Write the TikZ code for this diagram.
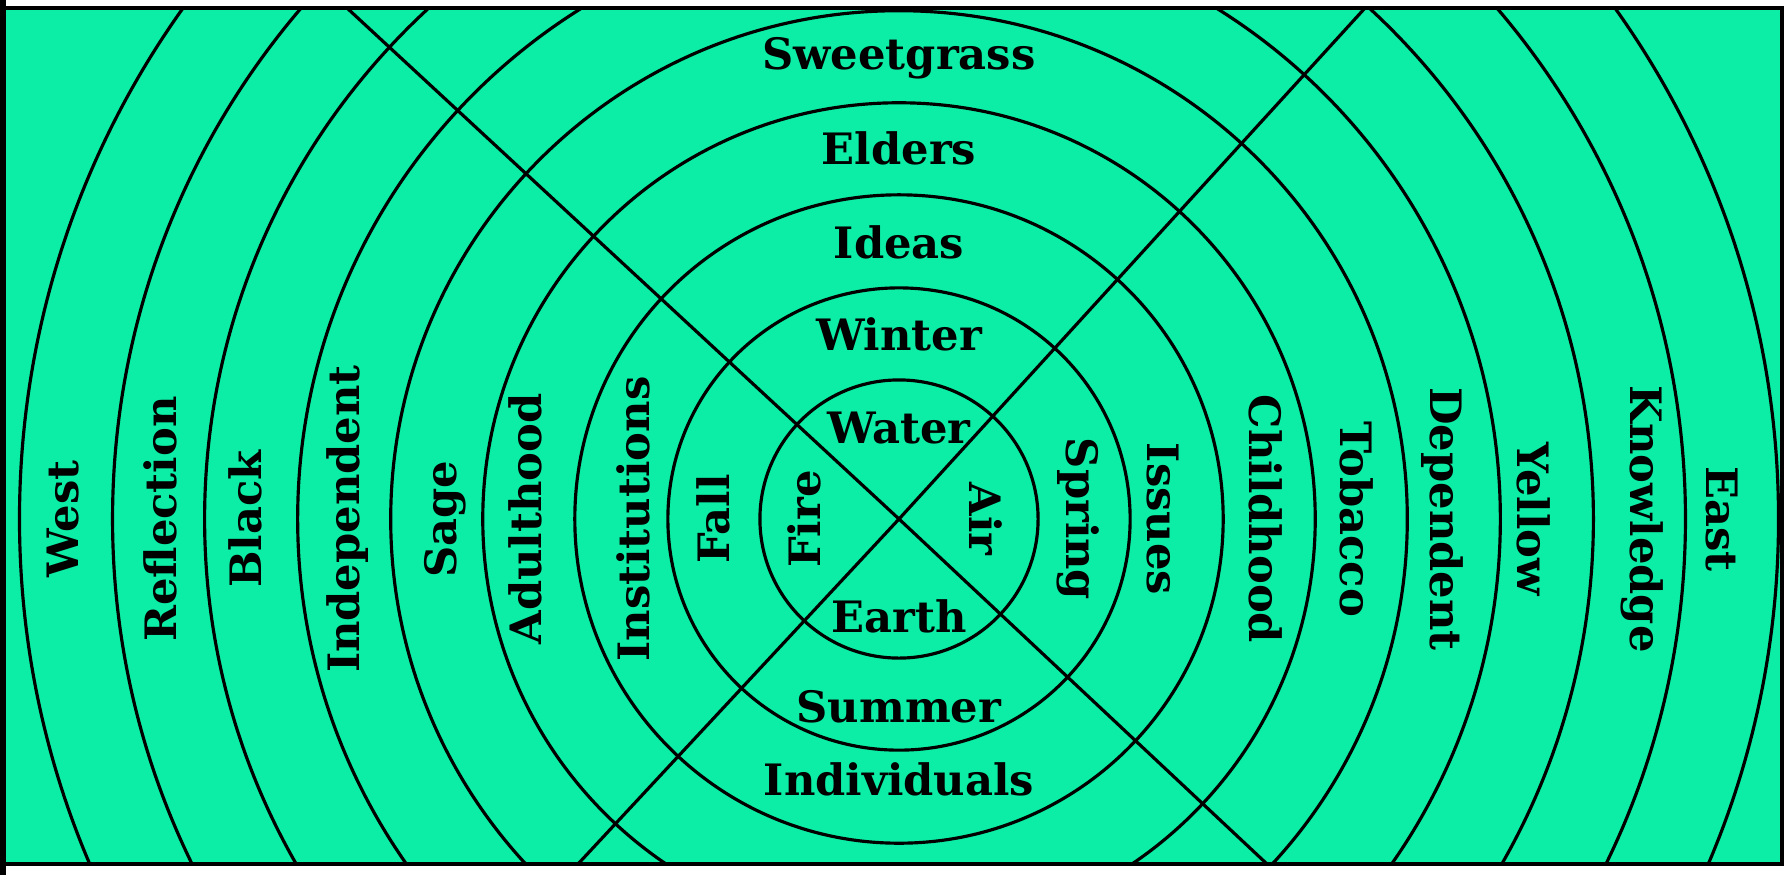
\documentclass[tikz,border=0pt]{standalone}
\usepackage{fontspec}
\setmainfont{DejaVu Serif}
\definecolor{mint}{RGB}{12,238,165}
\tikzset{
  ring/.style={draw=black, line width=0.9pt},
  spoke/.style={draw=black, line width=0.9pt},
  lbl/.style={font=\fontsize{12.3}{13}\selectfont\bfseries, inner sep=0pt, text=black},
  lleft/.style={lbl, rotate=90},
  lright/.style={lbl, rotate=-90}
}
\begin{document}
\begin{tikzpicture}[x=0.01cm, y=-0.01cm]
\useasboundingbox (0,0) rectangle (1788,875);
\fill[white] (0,0) rectangle (1788,875);
\coordinate (tl) at (3,8);
\coordinate (br) at (1782,864);
\fill[mint] (tl) rectangle (br);
\coordinate (c) at (899,519);
\begin{scope}
  \clip (tl) rectangle (br);
  \foreach \r in {1.39,2.31,3.24,4.16,5.08,6.01,6.94,7.86,8.79}
    \draw[ring] (c) circle[radius=\r cm];
  \coordinate (nw) at (347,8);
  \coordinate (se) at (1267,864);
  \coordinate (ne) at (1365,8);
  \coordinate (sw) at (578,864);
  \draw[spoke] (nw) -- (c) -- (se);
  \draw[spoke] (ne) -- (c) -- (sw);
\end{scope}
\draw[line width=1.1pt] (tl) rectangle (br);
\draw[line width=1.7pt] (3,0) -- (3,875);
% top / bottom labels
\node[lbl] (sweetgrass) at (899,58) {Sweetgrass};
\node[lbl] (elders) at (899,148) {Elders};
\node[lbl] (ideas) at (899,242) {Ideas};
\node[lbl] (winter) at (899,334) {Winter};
\node[lbl] (water) at (899,428) {Water};
\node[lbl] (earth) at (899,616) {Earth};
\node[lbl] (summer) at (899,707) {Summer};
\node[lbl] (individuals) at (899,779) {Individuals};
% left labels
\node[lleft] (west) at (63,519) {West};
\node[lleft] (reflection) at (160,519) {Reflection};
\node[lleft] (black) at (245,519) {Black};
\node[lleft] (independent) at (348,519) {Independent};
\node[lleft] (sage) at (445,519) {Sage};
\node[lleft] (adulthood) at (525,519) {Adulthood};
\node[lleft] (institutions) at (633,519) {Institutions};
\node[lleft] (fall) at (713,519) {Fall};
\node[lleft] (fire) at (804,519) {Fire};
% right labels
\node[lright] (air) at (986,519) {Air};
\node[lright] (spring) at (1078,519) {Spring};
\node[lright] (issues) at (1163,519) {Issues};
\node[lright] (childhood) at (1266,519) {Childhood};
\node[lright] (tobacco) at (1357,519) {Tobacco};
\node[lright] (dependent) at (1442,519) {Dependent};
\node[lright] (yellow) at (1534,519) {Yellow};
\node[lright] (knowledge) at (1642,519) {Knowledge};
\node[lright] (east) at (1722,519) {East};
\end{tikzpicture}
\end{document}
